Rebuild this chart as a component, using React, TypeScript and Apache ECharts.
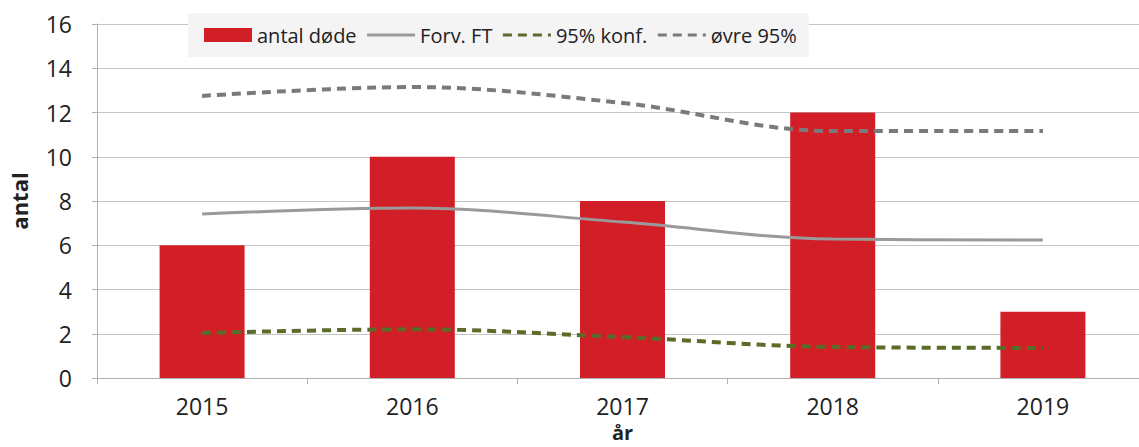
import React, { useEffect, useRef } from "react";
import * as echarts from "echarts";

const years = ["2015", "2016", "2017", "2018", "2019"];
const antalDode = [6, 10, 8, 12, 3];
const forvFT = [7.41, 7.68, 7.05, 6.28, 6.24];
const konf95 = [2.03, 2.2, 1.85, 1.4, 1.36];
const ovre95 = [12.75, 13.15, 12.43, 11.16, 11.16];
const yTicks = { min: 0, max: 16, interval: 2 };

const FONT = "'Open Sans', 'Noto Sans', sans-serif";

export default function App() {
  const ref = useRef<HTMLDivElement>(null);
  useEffect(() => {
    if (!ref.current) return;
    const chart = echarts.init(ref.current, null, { renderer: "svg" });
    const hidden = { opacity: 0 };
    chart.setOption({
      animation: false,
      backgroundColor: "#ffffff",
      textStyle: { fontFamily: FONT },
      grid: {
        left: 97,
        top: 24,
        width: 1051,
        height: 354,
        containLabel: false,
        outerBoundsMode: "none",
      },
      legend: {
        left: 188,
        top: 13,
        padding: [12, 12, 12, 16],
        backgroundColor: "#f4f4f4",
        itemWidth: 48,
        itemHeight: 14,
        itemGap: 9,
        textStyle: { fontFamily: FONT, fontSize: 20, color: "#222" },
        lineStyle: { width: 3 },
        data: [
          { name: "antal døde", icon: "rect", itemWidth: 64 },
          { name: "Forv. FT", itemStyle: hidden },
          { name: "95% konf.", itemStyle: hidden },
          { name: "øvre 95%", itemStyle: hidden },
        ],
      },
      xAxis: {
        type: "category",
        data: years,
        boundaryGap: true,
        name: "år",
        nameLocation: "middle",
        nameGap: 41,
        nameTextStyle: { fontFamily: FONT, fontSize: 20, fontWeight: "bold", color: "#222", lineHeight: 20 },
        axisLine: { lineStyle: { color: "#b0b0b0", width: 1 } },
        axisTick: { show: true, length: 6, lineStyle: { color: "#b0b0b0" } },
        axisLabel: { fontFamily: FONT, fontSize: 23, color: "#222", margin: 16, lineHeight: 24 },
      },
      yAxis: {
        type: "value",
        min: yTicks.min,
        max: yTicks.max,
        interval: yTicks.interval,
        name: "antal",
        nameLocation: "middle",
        nameGap: 67,
        nameTextStyle: { fontFamily: FONT, fontSize: 22, fontWeight: "bold", color: "#222" },
        axisLine: { show: true, lineStyle: { color: "#b0b0b0", width: 1 } },
        axisTick: { show: true, length: 5, lineStyle: { color: "#b0b0b0" } },
        axisLabel: { fontFamily: FONT, fontSize: 23, color: "#222", margin: 25 },
        splitLine: { lineStyle: { color: "#c4c4c4", width: 1 } },
      },
      series: [
        {
          name: "antal døde",
          type: "bar",
          data: antalDode,
          barWidth: 85,
          itemStyle: { color: "#d21f27" },
          z: 2,
        },
        {
          name: "Forv. FT",
          type: "line",
          data: forvFT,
          smooth: 0.35,
          symbol: "none",
          lineStyle: { color: "#9a9a9a", width: 3 },
          itemStyle: { color: "#9a9a9a" },
          z: 3,
        },
        {
          name: "95% konf.",
          type: "line",
          data: konf95,
          smooth: 0.35,
          symbol: "none",
          lineStyle: { color: "#5a6b2a", width: 4, type: [9, 6] },
          itemStyle: { color: "#5a6b2a" },
          z: 3,
        },
        {
          name: "øvre 95%",
          type: "line",
          data: ovre95,
          smooth: 0.35,
          symbol: "none",
          lineStyle: { color: "#7a7a7a", width: 4, type: [9, 6] },
          itemStyle: { color: "#7a7a7a" },
          z: 3,
        },
      ],
    });
    return () => chart.dispose();
  }, []);
  return (
    <div
      ref={ref}
      style={{ position: "fixed", left: 0, top: 0, width: 1139, height: 447 }}
    />
  );
}
